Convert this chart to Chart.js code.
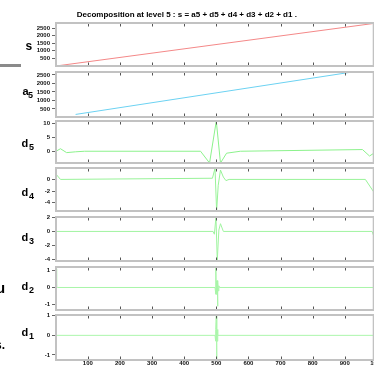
<!DOCTYPE html>
<html>
<head>
<meta charset="utf-8">
<script src="https://cdn.jsdelivr.net/npm/chart.js@4.4.0/dist/chart.umd.min.js"></script>
<style>
  html, body { margin: 0; padding: 0; background: #fff; overflow: hidden; width: 374px; height: 371px; }
  #wrap { position: relative; width: 374px; height: 371px; overflow: hidden; font-family: "Liberation Sans", Arial, sans-serif; }
  canvas { position: absolute; left: 0; }
  .lab { position: absolute; font-weight: bold; color: #000; white-space: nowrap; }
</style>
</head>
<body>
<div id="wrap"></div>

<script>
// ---- data ----
const titleText = "Decomposition at level 5 : s = a5 + d5 + d4 + d3 + d2 + d1 .";
const xTicks = [100, 200, 300, 400, 500, 600, 700, 800, 900, 1000];

const sX = [1, 1000];
const sY = [0, 2830];

const a5X = [62, 923];
const a5Y = [180, 2676];

const d5X = [1, 15, 34, 62, 90, 451, 479, 500, 513, 532, 575, 955, 977, 992, 1000];
const d5Y = [0, 0.9, -0.5, -0.2, 0, 0, -4.2, 10.8, -4.2, -0.7, 0, 0.6, -1.7, -0.6, 0];

const d4X = [1, 15, 488, 496, 501, 506, 513, 522, 530, 540, 964, 992, 1000];
const d4Y = [0.9, 0, 0.2, 1.9, -5.4, -1, 1.6, 0.4, -0.2, 0, 0, -2.3, -3];

const d3X = [1, 490, 494, 499, 503, 508, 513, 522, 985, 995, 1000];
const d3Y = [0, 0, -0.4, 2.05, -4.2, 0.2, 1.1, 0, 0, -1.3, -1.5];

const d2X = [1, 3, 6, 496, 498, 499, 500, 501, 502, 503, 504, 505, 506, 508, 510, 1000];
const d2Y = [1.1, 0, 0, 0, -0.4, 1.2, -0.4, 0.4, -0.3, 0.4, -1.1, 0.3, -0.2, 0.1, 0, 0];

const d1X = [1, 496, 497, 498, 499, 500, 501, 502, 503, 504, 505, 1000];
const d1Y = [0, 0, 0.3, -0.3, 0.3, 1.04, -1.26, 0.3, -0.3, 0.3, 0, 0];

const sTicks = [500, 1000, 1500, 2000, 2500];
const d5Ticks = [0, 5, 10];
const d4Ticks = [-4, -2, 0];
const d3Ticks = [-4, -2, 0, 2];
const d2Ticks = [-1, 0, 1];
const d1Ticks = [-1, 0, 1];

// panels: name, data, y limits, ticks, colour, frame top/bottom in px
const panels = [
  { xs: sX,  ys: sY,  min: 0,     max: 2830, ticks: sTicks,  color: "#f48888", top: 23,    bottom: 66 },
  { xs: a5X, ys: a5Y, min: 29,    max: 2676, ticks: sTicks,  color: "#6cd2f2", top: 72,    bottom: 117 },
  { xs: d5X, ys: d5Y, min: -4.2,  max: 10.8, ticks: d5Ticks, color: "#8cf28c", top: 121,   bottom: 163 },
  { xs: d4X, ys: d4Y, min: -5.4,  max: 1.95, ticks: d4Ticks, color: "#98f398", top: 168.3, bottom: 211.7 },
  { xs: d3X, ys: d3Y, min: -4.2,  max: 2.05, ticks: d3Ticks, color: "#a0f4a0", top: 216.7, bottom: 260.7 },
  { xs: d2X, ys: d2Y, min: -1.32, max: 1.2,  ticks: d2Ticks, color: "#a8f5a8", top: 266.7, bottom: 309.3 },
  { xs: d1X, ys: d1Y, min: -1.26, max: 1.04, ticks: d1Ticks, color: "#acf6ac", top: 315,   bottom: 360 }
];

const X_MIN = 1, X_MAX = 990;
const CANVAS_W = 400;
const AXIS_W = 56;
const PAD_R = 26.3;

// grey box + inward x ticks, like the matlab axes
const framePlugin = {
  id: "frame",
  afterDraw(chart) {
    const ctx = chart.ctx;
    const a = chart.chartArea;
    const x = chart.scales.x;
    ctx.save();
    ctx.strokeStyle = "#c2c2c2";
    ctx.lineWidth = 2;
    ctx.strokeRect(a.left, a.top, a.right - a.left, a.bottom - a.top);
    ctx.strokeStyle = "#555";
    ctx.lineWidth = 1;
    xTicks.forEach(v => {
      if (v > x.max) return;
      const px = Math.round(x.getPixelForValue(v)) + 0.5;
      ctx.beginPath();
      ctx.moveTo(px, a.top + 1);
      ctx.lineTo(px, a.top + 3.5);
      ctx.moveTo(px, a.bottom - 1);
      ctx.lineTo(px, a.bottom - 3.5);
      ctx.stroke();
    });
    ctx.restore();
  }
};

const wrap = document.getElementById("wrap");

function addLabel(text, size, left, baseline) {
  const el = document.createElement("div");
  el.className = "lab";
  el.textContent = text;
  el.style.fontSize = size + "px";
  el.style.lineHeight = size + "px";
  el.style.left = left + "px";
  el.style.top = (baseline - size * 0.85) + "px";
  wrap.appendChild(el);
}

const plainNum = v => String(v);

panels.forEach((p, i) => {
  const first = i === 0;
  const last = i === panels.length - 1;
  const padT = first ? 0 : 6;
  const canvasTop = first ? 0 : p.top - padT;
  const h = last ? 80 : (p.bottom - canvasTop) + 6;

  const c = document.createElement("canvas");
  c.width = CANVAS_W;
  c.height = Math.round(h);
  c.style.top = canvasTop + "px";
  c.style.width = CANVAS_W + "px";
  c.style.height = Math.round(h) + "px";
  wrap.appendChild(c);

  const padB = last ? (80 - (p.bottom - canvasTop) - 7.2) : (h - (p.bottom - canvasTop));

  new Chart(c, {
    type: "line",
    data: {
      datasets: [{
        data: p.xs.map((x, k) => ({ x: x, y: p.ys[k] })),
        borderColor: p.color,
        borderWidth: 1,
        pointRadius: 0,
        tension: 0,
        fill: false
      }]
    },
    options: {
      responsive: false,
      animation: false,
      devicePixelRatio: 1,
      layout: { padding: { top: padT, bottom: padB, left: 0, right: PAD_R } },
      plugins: {
        legend: { display: false },
        tooltip: { enabled: false },
        title: {
          display: first,
          text: titleText,
          color: "#000",
          font: { family: "Liberation Sans", size: 8, weight: "bold" },
          padding: { top: 10, bottom: 3.4 }
        }
      },
      scales: {
        x: {
          type: "linear",
          min: X_MIN,
          max: X_MAX,
          display: last,
          afterBuildTicks: s => { s.ticks = xTicks.map(v => ({ value: v })); },
          grid: { display: false, drawTicks: false },
          border: { display: false },
          ticks: {
            padding: 0,
            maxRotation: 0,
            autoSkip: false,
            callback: plainNum,
            color: "#111",
            font: { family: "Liberation Sans", size: 6, weight: "bold" }
          }
        },
        y: {
          min: p.min,
          max: p.max,
          afterFit: s => { s.width = AXIS_W; },
          afterBuildTicks: s => { s.ticks = p.ticks.map(v => ({ value: v })); },
          grid: { drawOnChartArea: false, tickLength: 4, color: "#666" },
          border: { display: false },
          ticks: {
            padding: 2,
            callback: plainNum,
            color: "#111",
            font: { family: "Liberation Sans", size: 6, weight: "bold" }
          }
        }
      }
    },
    plugins: [framePlugin]
  });
});

// side labels (matlab ylabels)
addLabel("s", 12, 25.5, 50.5);
addLabel("a", 11, 22.5, 95.5);
addLabel("5", 9, 28, 98.5);
addLabel("d", 11, 21.5, 147.5);
addLabel("5", 9, 29, 151);
addLabel("d", 11, 21.5, 196);
addLabel("4", 9, 29, 199.5);
addLabel("d", 11, 21.5, 241);
addLabel("3", 9, 29, 244.5);
addLabel("d", 11, 21.5, 290.5);
addLabel("2", 9, 29, 294);
addLabel("d", 11, 21.5, 336);
addLabel("1", 9, 29, 339.5);

// bits of the window around the figure that show in the crop
const bar = document.createElement("div");
bar.style.cssText = "position:absolute;left:0;top:64px;width:21px;height:3px;background:#8a8a8a;";
wrap.appendChild(bar);
addLabel("u", 15, -4, 293);
addLabel("s.", 12, -5, 349);
</script>
</body>
</html>
